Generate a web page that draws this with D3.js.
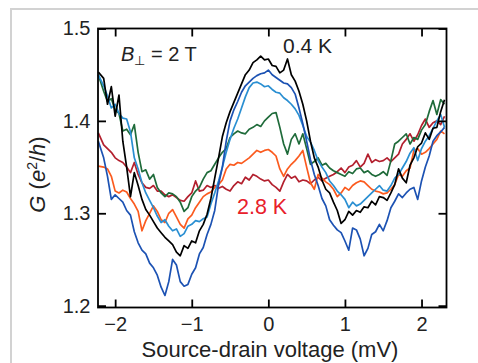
<!DOCTYPE html>
<html>
<head>
<meta charset="utf-8">
<script src="https://cdn.jsdelivr.net/npm/d3@7"></script>
<style>
  body { margin: 0; background: #fff; }
  svg { display: block; font-family: 'Liberation Sans', Arial, Helvetica, sans-serif; }
</style>
</head>
<body>
<svg width="478" height="363"></svg>
<script>
// source-drain bias (mV)
let voltage = [
  -2.22, -2.15, -2.1, -2.05, -2, -1.95, -1.9, -1.85, -1.8, -1.75,
  -1.7, -1.65, -1.6, -1.55, -1.5, -1.45, -1.4, -1.35, -1.3, -1.25,
  -1.2, -1.15, -1.1, -1.05, -1, -0.95, -0.9, -0.85, -0.8, -0.75,
  -0.7, -0.65, -0.6, -0.55, -0.5, -0.45, -0.4, -0.35, -0.3, -0.25,
  -0.2, -0.15, -0.1, -0.05, 0, 0.05, 0.1, 0.15, 0.2, 0.25,
  0.3, 0.35, 0.4, 0.45, 0.5, 0.55, 0.6, 0.65, 0.7, 0.75,
  0.8, 0.85, 0.9, 0.95, 1, 1.05, 1.1, 1.15, 1.2, 1.25,
  1.3, 1.35, 1.4, 1.45, 1.5, 1.55, 1.6, 1.65, 1.7, 1.75,
  1.8, 1.85, 1.9, 1.95, 2, 2.05, 2.1, 2.15, 2.2, 2.25,
  2.3,
];

// conductance G (e^2/h), one array per temperature
let gRed = [
  1.387, 1.374, 1.370, 1.366, 1.360, 1.357, 1.355, 1.350, 1.344, 1.355,
  1.342, 1.333, 1.328, 1.327, 1.330, 1.324, 1.324, 1.320, 1.318, 1.320,
  1.317, 1.314, 1.313, 1.318, 1.322, 1.335, 1.324, 1.325, 1.330, 1.328,
  1.330, 1.327, 1.329, 1.326, 1.324, 1.330, 1.334, 1.332, 1.339, 1.336,
  1.342, 1.340, 1.337, 1.335, 1.336, 1.331, 1.328, 1.324, 1.334, 1.342,
  1.338, 1.340, 1.334, 1.336, 1.335, 1.332, 1.336, 1.339, 1.335, 1.338,
  1.340, 1.342, 1.345, 1.349, 1.344, 1.350, 1.352, 1.357, 1.350, 1.354,
  1.364, 1.355, 1.358, 1.356, 1.357, 1.360, 1.356, 1.360, 1.364, 1.375,
  1.380, 1.386, 1.378, 1.385, 1.395, 1.402, 1.393, 1.398, 1.400, 1.396,
  1.405,
];
let gOrange = [
  1.351, 1.350, 1.348, 1.340, 1.324, 1.322, 1.325, 1.323, 1.316, 1.310,
  1.302, 1.281, 1.292, 1.300, 1.308, 1.302, 1.293, 1.290, 1.300, 1.304,
  1.296, 1.288, 1.284, 1.294, 1.298, 1.306, 1.312, 1.318, 1.321, 1.323,
  1.328, 1.331, 1.336, 1.348, 1.353, 1.352, 1.355, 1.354, 1.357, 1.360,
  1.364, 1.368, 1.366, 1.368, 1.369, 1.366, 1.362, 1.348, 1.340, 1.348,
  1.353, 1.357, 1.362, 1.368, 1.350, 1.333, 1.326, 1.342, 1.338, 1.334,
  1.331, 1.326, 1.318, 1.322, 1.328, 1.325, 1.330, 1.333, 1.335, 1.334,
  1.330, 1.326, 1.324, 1.323, 1.321, 1.322, 1.326, 1.331, 1.342, 1.340,
  1.346, 1.349, 1.368, 1.370, 1.364, 1.366, 1.370, 1.375, 1.380, 1.389,
  1.386,
];
let gGreen = [
  1.450, 1.432, 1.421, 1.424, 1.412, 1.408, 1.389, 1.391, 1.385, 1.396,
  1.366, 1.345, 1.347, 1.337, 1.342, 1.328, 1.322, 1.318, 1.322, 1.321,
  1.318, 1.312, 1.302, 1.306, 1.318, 1.324, 1.328, 1.337, 1.344, 1.346,
  1.353, 1.360, 1.366, 1.370, 1.382, 1.386, 1.389, 1.387, 1.386, 1.391,
  1.393, 1.396, 1.394, 1.400, 1.404, 1.408, 1.409, 1.393, 1.375, 1.364,
  1.380, 1.386, 1.375, 1.386, 1.370, 1.353, 1.356, 1.360, 1.352, 1.354,
  1.349, 1.346, 1.344, 1.342, 1.340, 1.345, 1.343, 1.348, 1.349, 1.344,
  1.346, 1.342, 1.340, 1.342, 1.345, 1.341, 1.357, 1.375, 1.378, 1.382,
  1.386, 1.375, 1.382, 1.380, 1.390, 1.396, 1.410, 1.422, 1.407, 1.423,
  1.418,
];
let gSky = [
  1.450, 1.438, 1.427, 1.414, 1.418, 1.408, 1.403, 1.402, 1.388, 1.360,
  1.348, 1.333, 1.322, 1.314, 1.306, 1.297, 1.290, 1.293, 1.286, 1.281,
  1.283, 1.275, 1.278, 1.286, 1.288, 1.292, 1.291, 1.294, 1.296, 1.310,
  1.322, 1.335, 1.350, 1.366, 1.380, 1.392, 1.402, 1.414, 1.426, 1.436,
  1.441, 1.442, 1.440, 1.437, 1.438, 1.434, 1.431, 1.430, 1.425, 1.422,
  1.418, 1.413, 1.406, 1.395, 1.383, 1.377, 1.368, 1.357, 1.350, 1.344,
  1.335, 1.330, 1.324, 1.320, 1.315, 1.306, 1.312, 1.308, 1.310, 1.314,
  1.318, 1.322, 1.326, 1.330, 1.325, 1.324, 1.330, 1.338, 1.342, 1.349,
  1.356, 1.365, 1.371, 1.357, 1.370, 1.378, 1.384, 1.392, 1.400, 1.407,
  1.393,
];
let gBlue = [
  1.378, 1.360, 1.340, 1.315, 1.320, 1.316, 1.312, 1.303, 1.298, 1.280,
  1.268, 1.260, 1.256, 1.246, 1.241, 1.233, 1.220, 1.211, 1.226, 1.250,
  1.244, 1.226, 1.221, 1.223, 1.234, 1.241, 1.256, 1.263, 1.277, 1.288,
  1.303, 1.331, 1.350, 1.378, 1.400, 1.412, 1.421, 1.431, 1.438, 1.442,
  1.446, 1.449, 1.451, 1.452, 1.455, 1.450, 1.447, 1.444, 1.441, 1.440,
  1.436, 1.429, 1.414, 1.397, 1.378, 1.358, 1.342, 1.330, 1.316, 1.308,
  1.293, 1.287, 1.282, 1.279, 1.270, 1.260, 1.284, 1.282, 1.272, 1.254,
  1.262, 1.277, 1.280, 1.288, 1.281, 1.292, 1.306, 1.313, 1.321, 1.317,
  1.322, 1.326, 1.328, 1.315, 1.335, 1.350, 1.362, 1.378, 1.384, 1.388,
  1.393,
];
let gBlack = [
  1.453, 1.446, 1.418, 1.437, 1.405, 1.428, 1.378, 1.350, 1.318, 1.344,
  1.330, 1.315, 1.304, 1.298, 1.291, 1.284, 1.279, 1.274, 1.270, 1.266,
  1.258, 1.254, 1.265, 1.262, 1.270, 1.268, 1.281, 1.288, 1.299, 1.316,
  1.338, 1.360, 1.383, 1.398, 1.410, 1.420, 1.430, 1.440, 1.450, 1.455,
  1.463, 1.466, 1.470, 1.466, 1.467, 1.460, 1.459, 1.452, 1.455, 1.467,
  1.450, 1.443, 1.432, 1.418, 1.400, 1.378, 1.360, 1.350, 1.336, 1.326,
  1.322, 1.312, 1.303, 1.289, 1.293, 1.302, 1.298, 1.303, 1.301, 1.307,
  1.306, 1.313, 1.309, 1.318, 1.317, 1.314, 1.322, 1.331, 1.348, 1.338,
  1.333, 1.352, 1.360, 1.372, 1.376, 1.387, 1.380, 1.392, 1.393, 1.410,
  1.423,
];

let xTicks = [-2, -1, 0, 1, 2];
let yTicks = [1.2, 1.3, 1.4, 1.5];

// drawn back to front: hottest first, 0.4 K on top
let series = [
  { values: gRed, color: '#b3202e' },
  { values: gOrange, color: '#fb5b1f' },
  { values: gGreen, color: '#1f6b3a' },
  { values: gSky, color: '#2a8fd2' },
  { values: gBlue, color: '#1c52b3' },
  { values: gBlack, color: '#000000' },
];

let plotLeft = 98;
let plotRight = 446.5;
let plotTop = 28.5;
let plotBottom = 307.5;
let tickLen = 8;

let svg = d3.select('svg');

// light panel border
svg
  .append('rect')
  .attr('x', 11)
  .attr('y', 9)
  .attr('width', 520)
  .attr('height', 400)
  .attr('fill', 'none')
  .attr('stroke', '#d2d2d2')
  .attr('stroke-width', 2);

let xScale = d3.scaleLinear().domain([-2.224, 2.326]).range([plotLeft, plotRight]);
let yScale = d3.scaleLinear().domain([1.198, 1.5]).range([plotBottom, plotTop]);

let line = d3
  .line()
  .x((d, i) => xScale(voltage[i]))
  .y((d) => yScale(d));

svg
  .append('g')
  .selectAll('path')
  .data(series)
  .enter()
  .append('path')
  .attr('d', (d) => line(d.values))
  .attr('fill', 'none')
  .attr('stroke', (d) => d.color)
  .attr('stroke-width', 1.7)
  .attr('stroke-linejoin', 'round');

function styleAxis(g) {
  g.select('.domain').remove();
  g.selectAll('.tick line').attr('stroke', '#000').attr('stroke-width', 1.8);
  g.selectAll('.tick text').attr('fill', '#222').style('font-size', '20px');
}

svg
  .append('g')
  .attr('transform', `translate(0,${plotBottom})`)
  .call(d3.axisBottom(xScale).tickValues(xTicks).tickFormat(d3.format('d')).tickSize(-tickLen).tickPadding(9.5))
  .call(styleAxis);

svg
  .append('g')
  .attr('transform', `translate(0,${plotTop})`)
  .call(d3.axisTop(xScale).tickValues(xTicks).tickFormat('').tickSize(-tickLen))
  .call(styleAxis);

svg
  .append('g')
  .attr('transform', `translate(${plotLeft},0)`)
  .call(d3.axisLeft(yScale).tickValues(yTicks).tickFormat(d3.format('.1f')).tickSize(-tickLen).tickPadding(7.5))
  .call(styleAxis);

svg
  .append('g')
  .attr('transform', `translate(${plotRight},0)`)
  .call(d3.axisRight(yScale).tickValues(yTicks).tickFormat('').tickSize(-tickLen))
  .call(styleAxis);

// axes frame
svg
  .append('rect')
  .attr('x', plotLeft)
  .attr('y', plotTop)
  .attr('width', plotRight - plotLeft)
  .attr('height', plotBottom - plotTop)
  .attr('fill', 'none')
  .attr('stroke', '#000')
  .attr('stroke-width', 1.8);

// axis titles
svg
  .append('text')
  .attr('x', 270)
  .attr('y', 356.5)
  .attr('text-anchor', 'middle')
  .attr('fill', '#222')
  .style('font-size', '22px')
  .text('Source-drain voltage (mV)');

let yTitle = svg
  .append('text')
  .attr('transform', 'translate(45,174.5) rotate(-90)')
  .attr('text-anchor', 'middle')
  .attr('fill', '#222')
  .style('font-size', '22px');
yTitle.append('tspan').style('font-style', 'italic').text('G');
yTitle.append('tspan').text(' (');
yTitle.append('tspan').style('font-style', 'italic').text('e');
yTitle.append('tspan').attr('dy', -8).style('font-size', '14px').text('2');
yTitle.append('tspan').attr('dy', 8).text('/');
yTitle.append('tspan').style('font-style', 'italic').text('h');
yTitle.append('tspan').text(')');

// annotations
let field = svg
  .append('text')
  .attr('x', 121)
  .attr('y', 61.3)
  .attr('fill', '#222')
  .style('font-size', '20px');
field.append('tspan').style('font-style', 'italic').text('B');
field.append('tspan').attr('dy', 4).style('font-size', '13px').text('⊥');
field.append('tspan').attr('dy', -4).text(' = 2 T');

svg
  .append('text')
  .attr('x', 283)
  .attr('y', 53)
  .attr('fill', '#222')
  .style('font-size', '21px')
  .text('0.4 K');

svg
  .append('text')
  .attr('x', 237)
  .attr('y', 213.5)
  .attr('fill', '#e8202a')
  .style('font-size', '21.5px')
  .text('2.8 K');
</script>
</body>
</html>
